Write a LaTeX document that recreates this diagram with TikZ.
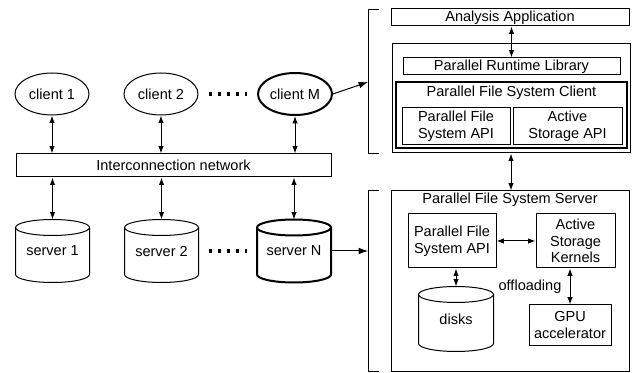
\documentclass[tikz,border=0pt]{standalone}
\usepackage{fontspec}
\setmainfont{Liberation Sans}
\usetikzlibrary{arrows.meta,shapes.geometric,calc}

\tikzset{every picture/.style={line width=0.75pt}}
\tikzset{
  every node/.style={font=\fontsize{10.9pt}{12.5pt}\selectfont},
  box/.style={draw, rectangle, inner sep=0pt, align=center},
  bold box/.style={box, line width=1.5pt},
  client/.style={draw, ellipse, inner sep=0pt, minimum width=55.5pt, minimum height=31.5pt},
  drum/.style={rectangle, inner sep=0pt, minimum width=54.75pt, minimum height=46.5pt},
  link/.style={{Latex[length=5.5pt,width=4pt]}-{Latex[length=5.5pt,width=4pt]}},
  feed/.style={-{Latex[length=7pt,width=5pt]}},
  dots/.style={line width=2.6pt, dash pattern=on 2.6pt off 4.15pt},
}
% outline of a can round a drum node
\newcommand{\drawdrum}[2][]{%
  \draw[#1] let \p1=($(#2.east)-(#2.west)$) in
    ($(#2.north west)+(0,8)$) -- ($(#2.south west)+(0,-8)$)
    arc[start angle=180, end angle=0, x radius=0.5*\x1, y radius=6pt]
    -- ($(#2.north east)+(0,8)$);
  \draw[#1] let \p1=($(#2.east)-(#2.west)$) in
    ($(#2.north)+(0,8)$) ellipse[x radius=0.5*\x1, y radius=6pt];}

\begin{document}
\begin{tikzpicture}[x=0.75pt,y=0.75pt,yscale=-1,xscale=1]
        \useasboundingbox (0,0) rectangle (634,373);

        %Shape: Ellipse [clients]
        \node[client] (c1) at (52,94) {client 1};
        \node[client] (c2) at (161,94) {client 2};
        \node[client, line width=1.5pt] (cM) at (295,94) {client M};
        \draw[dots] ([xshift=7.5pt]c2.east) -- ([xshift=-7.5pt]cM.west);

        %Shape: Rectangle [network]
        \node[box, minimum width=236.25pt, minimum height=17.25pt] (net) at (173.5,165.5) {Interconnection network};

        %Shape: Can [servers]
        \node[drum] (s1) at (52.5,251) {server 1};
        \node[drum] (s2) at (161.5,251) {server 2};
        \node[drum] (sN) at (294,251) {server N};
        \drawdrum{s1}
        \drawdrum{s2}
        \drawdrum[line width=1.5pt]{sN}
        \draw[dots] ([xshift=7.5pt]s2.east) -- ([xshift=-7.5pt]sN.west);

        %Straight Lines [client to network]
        \draw[link] (c1.south) -- (c1.south |- net.north);
        \draw[link] (c2.south) -- (c2.south |- net.north);
        \draw[link] (cM.south) -- (cM.south |- net.north);
        %Straight Lines [network to server]
        \draw[link] (s1.north |- net.south) -- (s1.north);
        \draw[link] (s2.north |- net.south) -- (s2.north);
        \draw[link] (sN.north |- net.south) -- (sN.north);

        %Shape: Bracket [client side]
        \draw (379,10) -- (368,10) -- (368,154) -- (379,154);
        \coordinate (b1) at (368,82);
        %Shape: Bracket [server side]
        \draw (379,191) -- (368,191) -- (368,371) -- (379,371);
        \coordinate (b2) at (368,251);

        \draw[feed] (cM.east) -- (b1);
        \draw[feed] (sN.east) -- (b2);

        %Shape: Rectangle [client node]
        \node[box, minimum width=178.5pt, minimum height=12.75pt] (app) at (510,17.5) {Analysis Application};
        \node[box, minimum width=178.5pt, minimum height=81.75pt] (cbox) at (511,98.5) {};
        \node[box, minimum width=162.75pt, minimum height=12.75pt] (rtl) at (511.5,66.5) {Parallel Runtime Library};
        \node[bold box, minimum width=173.25pt, minimum height=49.5pt] (pfsc) at (511.5,115) {};
        % Text Node
        \node (pfsct) at (511.5,93) {Parallel File System Client};
        \node[box, minimum width=81pt, minimum height=27.75pt] (capi) at (456,126.5) {Parallel File\\System API};
        \node[box, minimum width=81.75pt, minimum height=27.75pt] (casapi) at (567.5,126.5) {Active\\Storage API};

        %Shape: Rectangle [server node]
        \node[box, minimum width=178.5pt, minimum height=135pt] (sbox) at (510,281) {};
        % Text Node
        \node (sboxt) at (510,200) {Parallel File System Server};
        \node[box, minimum width=66pt, minimum height=40.5pt] (sapi) at (452,241) {Parallel File\\System API};
        \node[box, minimum width=59.25pt, minimum height=40.5pt] (kern) at (575.5,241) {Active\\Storage\\Kernels};
        \node[box, minimum width=61.5pt, minimum height=30pt] (gpu) at (570,325) {GPU\\accelerator};
        \node[drum, minimum width=55.5pt, minimum height=48pt] (disks) at (456,319) {\raisebox{-5pt}{disks}};
        \drawdrum{disks}
        % Text Node
        \node (offl) at (530,287) {offloading};

        %Straight Lines [right side]
        \draw[link] (app.south -| rtl.north) -- (rtl.north);
        \draw[link] (cbox.south) -- (cbox.south |- sbox.north);
        \draw[link] (sapi.east) -- (kern.west);
        \draw[link] (disks.north |- sapi.south) -- (disks.north);
        \draw[link] (gpu.north |- kern.south) -- (gpu.north);
\end{tikzpicture}
\end{document}
